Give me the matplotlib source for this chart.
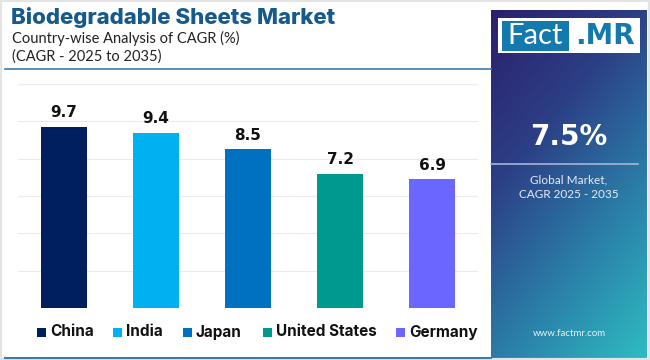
import numpy as np
import matplotlib.pyplot as plt
from matplotlib.colors import LinearSegmentedColormap
from matplotlib.patches import Rectangle

countries = ["China", "India", "Japan", "United States", "Germany"]
cagr = [9.7, 9.4, 8.5, 7.2, 6.9]
colors = ["#001f5f", "#00b0f0", "#0070c0", "#00998f", "#6b66ff"]

title = "Biodegradable Sheets Market"
subtitle = "Country-wise Analysis of CAGR (%)"
subtitle2 = "(CAGR - 2025 to 2035)"
global_cagr = "7.5%"

plt.rcParams["font.family"] = ["Lato", "DejaVu Sans"]
BOLD = ["Inter", "DejaVu Sans"]

W, H = 650, 360
fig = plt.figure(figsize=(6.5, 3.6), dpi=100)
fig.patch.set_facecolor("white")

def fx(x):
    return x / W

def fy(y):
    return 1 - y / H

# light frame
fig.add_artist(Rectangle((0, 0), 1, 1, transform=fig.transFigure, fill=False,
                         edgecolor="#e4e4e4", linewidth=3))

# titles
fig.text(fx(11), fy(18), title, fontsize=16, fontweight="heavy", color="#165a8c",
         va="center", ha="left", family=BOLD)
fig.text(fx(12), fy(38), subtitle, fontsize=10.5, color="#222222", va="center")
fig.text(fx(12), fy(57), subtitle2, fontsize=10.5, color="#222222", va="center")
fig.add_artist(plt.Line2D([fx(5), fx(491)], [fy(69), fy(69)], transform=fig.transFigure,
                          color="#3a7cb0", linewidth=1.2))
fig.add_artist(plt.Line2D([fx(5), fx(491)], [fy(357.5), fy(357.5)], transform=fig.transFigure,
                          color="#3a7cb0", linewidth=1.5))

# bar chart
ax = fig.add_axes([fx(18), fy(308), fx(478) - fx(18), fy(84) - fy(308)])
x = np.arange(len(countries))
ax.bar(x, cagr, width=0.5, color=colors, zorder=3)
for xi, v in zip(x, cagr):
    ax.text(xi, v + 0.35, f"{v}", ha="center", va="bottom", fontsize=11,
            fontweight="bold", color="#111111", family=["DejaVu Sans"])
ax.set_xlim(-0.5, 4.5)
ax.set_ylim(0, 12)
ax.set_yticks(np.arange(0, 13, 2))
ax.grid(axis="y", color="#ececec", linewidth=0.8, zorder=0)
ax.tick_params(left=False, bottom=False, labelleft=False, labelbottom=False)
for s in ax.spines.values():
    s.set_visible(False)

# legend
leg_x = [37, 113, 183, 263, 396]
for lx, name, c in zip(leg_x, countries, colors):
    fig.add_artist(Rectangle((fx(lx), fy(337)), fx(9), 9 / H, transform=fig.transFigure,
                             facecolor=c, edgecolor="none"))
    fig.text(fx(lx + 13), fy(332), name, fontsize=11, fontweight="bold",
             color="#111111", va="center", ha="left", family=BOLD)

# right panel with gradient
pax = fig.add_axes([fx(491), 0, fx(647) - fx(491), fy(10)])
n = 200
gx, gy = np.meshgrid(np.linspace(0, 1, n), np.linspace(0, 1, n))
t = np.clip(0.65 * gy + 0.35 * (1 - gx), 0, 1)
cmap = LinearSegmentedColormap.from_list("panel", ["#2fbcc2", "#2a7fa8", "#2c3f86", "#2b1f6c"])
pax.imshow(t, cmap=cmap, origin="lower", extent=[0, 1, 0, 1], aspect="auto")
pax.set_xlim(0, 1)
pax.set_ylim(0, 1)
pax.axis("off")

# logo
fig.add_artist(Rectangle((fx(498), fy(53)), fx(640) - fx(498), 35 / H, transform=fig.transFigure,
                         facecolor="white", edgecolor="none"))
fig.add_artist(Rectangle((fx(502), fy(51)), fx(569) - fx(502), 30 / H, transform=fig.transFigure,
                         facecolor="#1479ad", edgecolor="none"))
fig.text(fx(535.5), fy(36), "Fact", fontsize=21, color="white", ha="center", va="center")
fig.text(fx(605), fy(36), ".MR", fontsize=20, color="#1479ad", fontweight="bold",
         ha="center", va="center", family=["DejaVu Sans"])

fig.text(fx(569), fy(137), global_cagr, fontsize=20, fontweight="bold", color="white",
         ha="center", va="center", family=["DejaVu Sans"])
fig.add_artist(plt.Line2D([fx(491), fx(638)], [fy(164), fy(164)], transform=fig.transFigure,
                          color="#a9b4d8", linewidth=1.2))
fig.text(fx(569), fy(180), "Global Market,", fontsize=8.5, color="#e8ecf5", ha="center", va="center")
fig.text(fx(569), fy(195), "CAGR 2025 - 2035", fontsize=8.5, color="#e8ecf5", ha="center", va="center")
fig.text(fx(569), fy(334), "www.factmr.com", fontsize=7, color="#e8f0f5", ha="center", va="center")

fig.savefig("out.png", dpi=100)
